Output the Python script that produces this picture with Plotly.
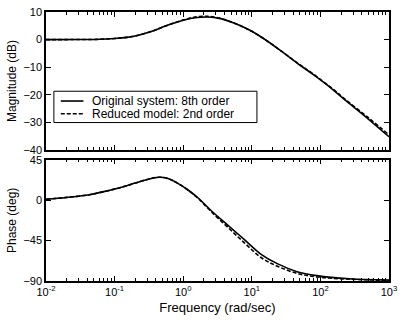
import plotly.graph_objects as go

# ---- data ----
freq_mag = [0.01, 0.03, 0.06, 0.1, 0.15, 0.2, 0.35, 0.55, 1.0, 1.6, 2.3, 3.5, 5, 7, 10, 15, 26, 50, 80, 150, 240, 500, 1000]
mag_orig = [0, 0.02, 0.1, 0.4, 0.8, 1.3, 3.0, 4.9, 7.0, 8.0, 8.2, 7.6, 6.4, 4.9, 3.0, 0.3, -3.9, -9.2, -12.8, -18.0, -22.3, -28.8, -35.2]
mag_red = [0, 0.02, 0.1, 0.4, 0.8, 1.3, 3.0, 4.9, 7.1, 8.3, 8.4, 7.7, 6.4, 4.9, 3.0, 0.3, -3.9, -9.1, -12.6, -17.8, -22.0, -28.3, -34.5]

freq_ph = [0.01, 0.02, 0.043, 0.08, 0.13, 0.2, 0.3, 0.44, 0.6, 0.8, 1.19, 1.7, 2.57, 4.5, 7.8, 13.5, 23.5, 45.7, 89, 265, 1000]
ph_orig = [1, 3, 6, 10.5, 14.6, 19, 23, 25.5, 24, 19.5, 11, 1.5, -11.8, -28, -44, -60, -70.7, -79.6, -84, -87.5, -89]
ph_red = [1, 3, 6, 10.5, 14.6, 19, 23, 25.5, 24, 19.5, 11, 1.0, -13, -30.5, -47.5, -63.6, -73.5, -81.5, -85.5, -88, -89.3]

x_tickvals = [0.01, 0.1, 1, 10, 100, 1000]
x_ticktext = ["10<sup>-2</sup>", "10<sup>-1</sup>", "10<sup>0</sup>", "10<sup>1</sup>", "10<sup>2</sup>", "10<sup>3</sup>"]
mag_ticks = [10, 0, -10, -20, -30, -40]
ph_ticks = [45, 0, -45, -90]

names = ["Original system: 8th order", "Reduced model: 2nd order"]

minor_vals = [m * 10 ** e for e in range(-2, 3) for m in range(2, 10)]

W, H = 403, 320
ML, MR, MT, MB = 46, 9, 6, 39
PW, PH = W - ML - MR, H - MT - MB


def px_x(px):
    return (px - ML) / PW


def px_y(py):
    return (H - MB - py) / PH


fig = go.Figure()
line_w = 1.6
dash = "4px,2px"
fig.add_trace(go.Scatter(x=freq_mag, y=mag_orig, mode="lines", line=dict(color="black", width=line_w, shape="spline"),
                         name=names[0], showlegend=False, xaxis="x", yaxis="y"))
fig.add_trace(go.Scatter(x=freq_mag, y=mag_red, mode="lines", line=dict(color="black", width=line_w, dash=dash, shape="spline"),
                         name=names[1], showlegend=False, xaxis="x", yaxis="y"))
fig.add_trace(go.Scatter(x=freq_ph, y=ph_orig, mode="lines", line=dict(color="black", width=line_w, shape="spline"),
                         showlegend=False, xaxis="x2", yaxis="y2"))
fig.add_trace(go.Scatter(x=freq_ph, y=ph_red, mode="lines", line=dict(color="black", width=line_w, dash=dash, shape="spline"),
                         showlegend=False, xaxis="x2", yaxis="y2"))

fam = "Liberation Sans, Arial, sans-serif"
font = dict(family=fam, size=11, color="black")


def xax(show_labels, anchor):
    return dict(type="log", range=[-2, 3], domain=[0, 1], anchor=anchor,
                tickmode="array", tickvals=x_tickvals, ticktext=x_ticktext,
                showticklabels=show_labels, ticks="inside", ticklen=5, tickcolor="black",
                showline=True, linecolor="black", linewidth=1.5, mirror="ticks",
                showgrid=False, zeroline=False, tickfont=font,
                minor=dict(tickmode="array", tickvals=minor_vals, ticks="inside", ticklen=3,
                           tickcolor="black", showgrid=False))


def yax(domain, rng, ticks, title, anchor):
    return dict(domain=domain, range=rng, anchor=anchor, tickmode="array", tickvals=ticks,
                ticks="inside", ticklen=5, tickcolor="black",
                showline=True, linecolor="black", linewidth=1.5, mirror="ticks",
                showgrid=False, zeroline=False, tickfont=font,
                title=dict(text=title, font=dict(family=fam, size=12, color="black"), standoff=4))


# ---- hand-drawn legend box (MATLAB style: compact rows) ----
lg_left, lg_right, lg_top, lg_bot = 54, 260, 87, 119
row_y = [97, 110]
shapes = [dict(type="rect", xref="paper", yref="paper",
               x0=px_x(lg_left), x1=px_x(lg_right), y0=px_y(lg_bot), y1=px_y(lg_top),
               line=dict(color="black", width=1), fillcolor="white", layer="above")]
annotations = []
for i, (nm, ry) in enumerate(zip(names, row_y)):
    shapes.append(dict(type="line", xref="paper", yref="paper",
                       x0=px_x(61), x1=px_x(84), y0=px_y(ry), y1=px_y(ry),
                       line=dict(color="black", width=1.6, dash=None if i == 0 else dash), layer="above"))
    annotations.append(dict(text=nm, xref="paper", yref="paper", x=px_x(91), y=px_y(ry),
                            xanchor="left", yanchor="middle", showarrow=False,
                            font=dict(family=fam, size=12, color="black")))

fig.update_layout(
    width=W, height=H,
    margin=dict(l=ML, r=MR, t=MT, b=MB),
    paper_bgcolor="white", plot_bgcolor="white",
    font=font,
    xaxis=xax(False, "y"),
    yaxis=yax([0.487, 1], [-40, 10], mag_ticks, "Magnitude (dB)", "x"),
    xaxis2=dict(xax(True, "y2"), title=dict(text="Frequency (rad/sec)", font=dict(family=fam, size=13, color="black"), standoff=6)),
    yaxis2=yax([0, 0.451], [-90, 45], ph_ticks, "Phase (deg)", "x2"),
    shapes=shapes,
    annotations=annotations,
    showlegend=False,
)

fig.write_html("out.html")
